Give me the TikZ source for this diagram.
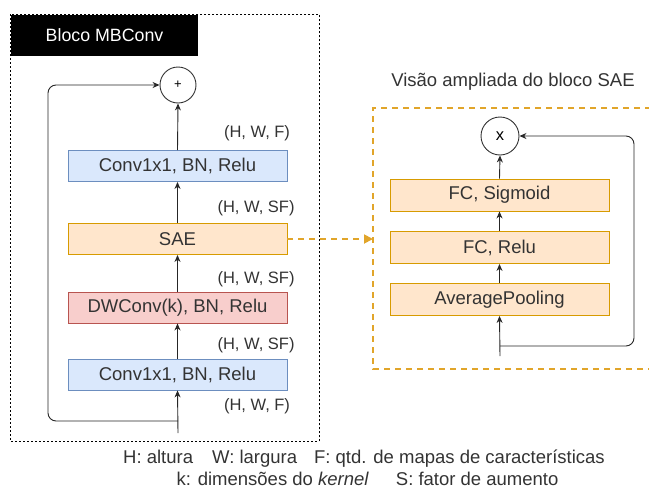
\documentclass[tikz,border=0pt]{standalone}
\usepackage{fontspec}
\setmainfont{Liberation Sans}
\usetikzlibrary{arrows.meta}

\definecolor{txt}{HTML}{333333}
\definecolor{blueF}{HTML}{DAE8FC}
\definecolor{blueD}{HTML}{6C8EBF}
\definecolor{orangeF}{HTML}{FFE6CC}
\definecolor{orangeD}{HTML}{D79B00}
\definecolor{redF}{HTML}{F8CECC}
\definecolor{redD}{HTML}{B85450}
\definecolor{gold}{HTML}{E1A52A}

\tikzset{
  layer/.style={draw, line width=0.9pt, minimum width=219pt, minimum height=31pt,
    inner sep=0pt, text=txt, font=\fontsize{18.5}{22}\selectfont},
  bluebox/.style={layer, fill=blueF, draw=blueD},
  orangebox/.style={layer, fill=orangeF, draw=orangeD},
  redbox/.style={layer, fill=redF, draw=redD},
  op/.style={circle, draw=black!80, line width=0.9pt, minimum size=36pt, inner sep=0pt, text=black},
  dimlabel/.style={text=txt, font=\fontsize{16.5}{20}\selectfont, inner sep=0pt},
  legendtext/.style={text=txt, font=\fontsize{18.5}{22}\selectfont, inner sep=0pt},
  flow/.style={draw=black!85, line width=0.9pt, -{Stealth[length=7pt,width=6pt]}},
  loop/.style={flow, rounded corners=8pt},
}

\begin{document}
\begin{tikzpicture}[x=1pt, y=-1pt]
\useasboundingbox (0,0) rectangle (649,493);

% MBConv block frame and header
\draw[line width=0.8pt, dash pattern=on 2pt off 2pt] (10.7,14.3) rectangle (319,441.7);
\node[fill=black, minimum width=187.3pt, minimum height=41.4pt, inner sep=0pt,
      text=white, font=\fontsize{17.8}{21}\selectfont, anchor=north west]
  (header) at (10.7,14.3) {Bloco MBConv};

% MBConv layers
\node[op, font=\fontsize{13}{15}\selectfont] (plus) at (178,85) {+};
\node[bluebox]   (conv2) at (177.5,166)   {Conv1x1, BN, Relu};
\node[orangebox] (sae)   at (177.5,239)   {SAE};
\node[redbox]    (dw)    at (177.5,307.5) {DWConv(k), BN, Relu};
\node[bluebox]   (conv1) at (177.5,374.5) {Conv1x1, BN, Relu};

% tensor shapes
\node[dimlabel] (d5) at (257,133) {(H, W, F)};
\node[dimlabel] (d4) at (256,208) {(H, W, SF)};
\node[dimlabel] (d3) at (256,279) {(H, W, SF)};
\node[dimlabel] (d2) at (256,345) {(H, W, SF)};
\node[dimlabel] (d1) at (257,406) {(H, W, F)};

% main path and skip connection
\coordinate (in1) at (178,433);
\coordinate (split1) at (178,421);
\coordinate (skipcorner) at (48,85);
\draw[flow] (in1) -- (conv1.south);
\draw[flow] (conv1.north) -- (dw.south);
\draw[flow] (dw.north) -- (sae.south);
\draw[flow] (sae.north) -- (conv2.south);
\draw[flow] (conv2.north) -- (plus.south);
\draw[loop] (split1) -| (skipcorner) -- (plus.west);

% SAE detail view
\node[text=txt, font=\fontsize{18.5}{22}\selectfont, inner sep=0pt] (title) at (513,82) {Visão ampliada do bloco SAE};
\draw[gold, line width=1.8pt, dash pattern=on 6pt off 5pt] (662,108) -- (373,108) -- (373,369) -- (662,369);
\coordinate (zoomin) at (373,239);

\node[op, minimum size=38pt, font=\fontsize{16.5}{20}\selectfont] (times) at (500,136) {x};
\node[orangebox, minimum height=32pt] (sig) at (499.5,195)   {FC, Sigmoid};
\node[orangebox, minimum height=32pt] (fc)  at (499.5,247.5) {FC, Relu};
\node[orangebox, minimum height=32pt] (avg) at (499.5,299.5) {AveragePooling};

\coordinate (in2) at (500,356);
\coordinate (split2) at (500,346);
\coordinate (scalecorner) at (634,136);
\draw[flow] (in2) -- (avg.south);
\draw[flow] (avg.north) -- (fc.south);
\draw[flow] (fc.north) -- (sig.south);
\draw[flow] (sig.north) -- (times.south);
\draw[loop] (split2) -| (scalecorner) -- (times.east);

% link from SAE to its detail view
\draw[gold, line width=1.8pt, dash pattern=on 6pt off 5pt,
      -{Triangle[length=9pt,width=9pt]}] (sae.east) -- (zoomin);

% legend
\node[legendtext] (leg1) at (364,459)
  {H: altura\hspace{19pt}W: largura\hspace{17pt}F: qtd. de mapas de características};
\node[legendtext] (leg2) at (367.5,479)
  {k: dimensões do \textit{kernel}\hspace{27pt}S: fator de aumento};
\end{tikzpicture}
\end{document}
